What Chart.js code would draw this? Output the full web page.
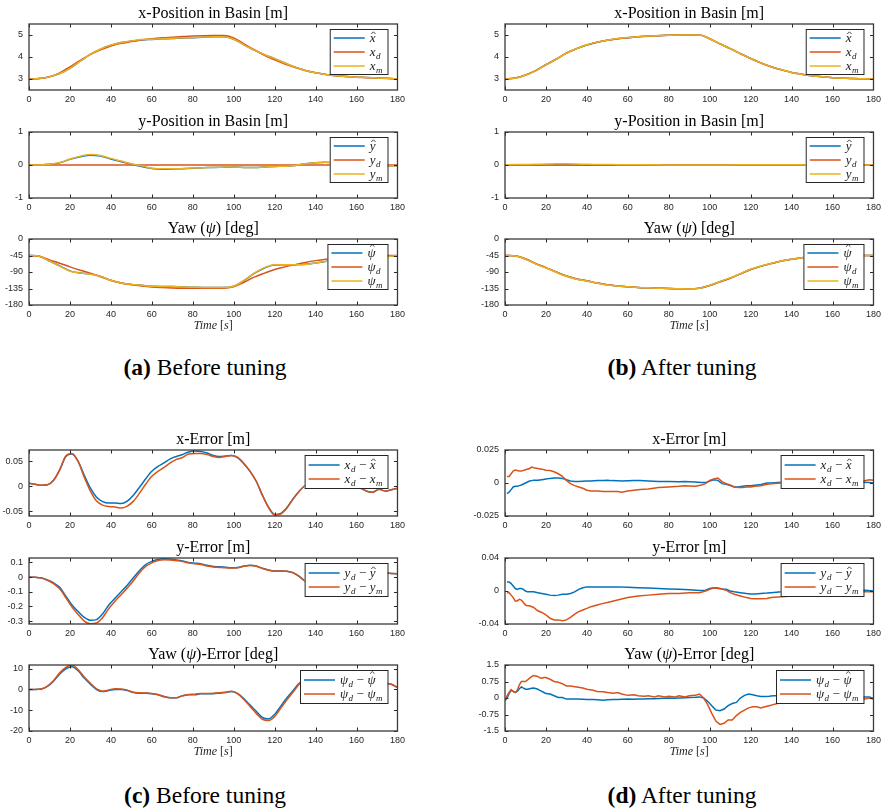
<!DOCTYPE html>
<html>
<head>
<meta charset="utf-8">
<script src="https://cdn.jsdelivr.net/npm/chart.js@4.4.1/dist/chart.umd.min.js"></script>
<style>
  html, body { margin: 0; padding: 0; background: #fff; }
  body { width: 883px; height: 808px; position: relative; overflow: hidden; }
  canvas { position: absolute; }
  .cap { position: absolute; font-family: "Liberation Serif", "Times New Roman", serif; font-size: 23.5px;
         color: #000; white-space: nowrap; transform: translate(-50%, -50%); line-height: 1; }
  .cap b { font-weight: bold; }
</style>
</head>
<body>
<div class="cap" style="left:205px; top:368px;"><b>(a)</b> Before tuning</div>
<div class="cap" style="left:682px; top:368px;"><b>(b)</b> After tuning</div>
<div class="cap" style="left:205px; top:796px;"><b>(c)</b> Before tuning</div>
<div class="cap" style="left:682px; top:796px;"><b>(d)</b> After tuning</div>
<script>
// ---------- time axes ----------
const timeTicks = [0, 20, 40, 60, 80, 100, 120, 140, 160, 180];
const tPos = [0,5,10,15,20,25,30,35,40,45,50,55,60,65,70,75,80,85,90,95,100,105,110,115,120,125,130,135,140,145,150,155,160,165,170,175,180];
const tErrC = [0,3,6,9,12,15,18,21,24,27,30,33,36,39,42,45,48,51,54,57,60,63,66,69,72,75,78,81,84,87,90,93,96,99,102,105,108,111,114,117,120,123,126,129,132,135,138,141,144,147,150,153,156,159,162,165,168,171,174,177,180];
const tDx = [1,2,3,4,5,6,7,8,10,12,13,14,16,18,20,22,24,26,28,30,32,34,36,38,40,42,45,48,50,52,55,57,60,63,66,70,75,80,85,88,90,93,96,98,100,102,104,106,108,110,112,114,116,118,120,122,125,128,130,135,140,145,150,155,160,165,170,175,178,180];
const tDy = [1,2,3,4,5,6,7,8,9,10,11,12,14,16,18,20,22,24,26,28,30,32,34,36,38,40,42,45,48,50,55,60,65,70,75,80,85,90,95,98,100,102,104,106,108,110,112,115,118,120,122,125,128,130,135,140,145,150,155,160,165,170,176,180];
const tDpsi = [0,1,2,3,4,5,6,7,8,9,10,11,12,13,14,15,16,17,18,19,20,22,24,26,28,30,32,35,38,40,43,45,48,50,53,55,57,60,63,65,68,70,73,75,78,80,83,85,88,90,93,95,97,99,101,103,105,107,109,111,113,115,117,119,121,123,125,127,129,131,133,135,137,140,145,150,155,160,165,170,174,176,178,180];

// ---------- (a) before tuning: positions ----------
const aXHat = [2.994,3.018,3.096,3.247,3.486,3.808,4.124,4.359,4.534,4.655,4.722,4.776,4.8,4.825,4.843,4.866,4.88,4.901,4.918,4.92,4.808,4.555,4.313,4.107,3.927,3.727,3.54,3.388,3.28,3.203,3.148,3.111,3.083,3.07,3.048,3.029,3.004];
const aXD   = [3.0,3.02,3.1,3.28,3.55,3.85,4.12,4.33,4.5,4.62,4.7,4.78,4.83,4.87,4.9,4.93,4.95,4.97,4.98,4.98,4.87,4.6,4.33,4.08,3.87,3.68,3.52,3.39,3.29,3.21,3.15,3.11,3.08,3.06,3.04,3.02,3.0];
const aXM   = [2.994,3.018,3.096,3.247,3.485,3.812,4.13,4.366,4.541,4.664,4.733,4.79,4.81,4.833,4.85,4.872,4.884,4.904,4.92,4.922,4.808,4.554,4.313,4.107,3.928,3.727,3.54,3.388,3.28,3.203,3.148,3.111,3.083,3.07,3.048,3.029,3.004];
const aYHat = [0,0.003,0.02,0.07,0.17,0.25,0.295,0.27,0.18,0.1,0.02,-0.045,-0.107,-0.125,-0.12,-0.11,-0.095,-0.085,-0.072,-0.067,-0.064,-0.072,-0.078,-0.06,-0.042,-0.04,-0.015,0.04,0.07,0.08,0.05,0.0,-0.02,-0.028,-0.03,-0.027,-0.022];
const aYD   = [0,0,0,0,0,0,0,0,0,0,0,0,0,0,0,0,0,0,0,0,0,0,0,0,0,0,0,0,0,0,0,0,0,0,0,0,0];
const aYM   = [0,0.003,0.02,0.075,0.18,0.265,0.317,0.29,0.2,0.12,0.04,-0.025,-0.095,-0.117,-0.117,-0.106,-0.093,-0.082,-0.069,-0.064,-0.062,-0.072,-0.078,-0.06,-0.042,-0.04,-0.015,0.04,0.07,0.08,0.05,0.0,-0.02,-0.028,-0.03,-0.027,-0.022];
const aPsiHat = [-45,-47,-60,-73.5,-87,-92.5,-95.5,-102,-112.7,-120,-123.8,-126,-129,-129.3,-129.5,-131,-131.5,-132,-132,-132.4,-128.8,-113.5,-94,-79,-71,-70.5,-70,-69,-65.3,-61,-56.5,-53,-50.5,-49.5,-48.8,-47.7,-46];
const aPsiD   = [-45,-47,-57,-66,-76,-85,-93,-103,-113,-120,-125,-128,-131,-132.5,-133.5,-134,-134,-134,-134,-134,-130,-118,-104,-93,-83,-76,-70,-64,-59,-55,-52,-49,-47,-46,-45.5,-45,-45];
const aPsiM   = [-45,-47,-60,-74,-87.8,-93,-96,-102,-112.7,-120,-123.8,-126,-129,-129.3,-129.5,-131,-131.5,-132,-132,-132.4,-128.8,-113,-93.5,-78.2,-70,-70,-70,-69.5,-65.3,-61,-56.5,-53,-50.5,-49.5,-48.8,-47.7,-46];

// ---------- (b) after tuning: positions ----------
const bXHat = [3.008,3.043,3.178,3.378,3.647,3.897,4.176,4.379,4.549,4.668,4.758,4.828,4.878,4.918,4.948,4.969,4.989,4.999,4.999,4.999,4.828,4.598,4.382,4.153,3.932,3.731,3.56,3.42,3.299,3.219,3.149,3.099,3.059,3.039,3.019,3.01,3.0];
const bXD   = [3.0,3.04,3.18,3.38,3.65,3.9,4.18,4.38,4.55,4.67,4.76,4.83,4.88,4.92,4.95,4.97,4.99,5.0,5.0,5.0,4.83,4.6,4.38,4.15,3.93,3.73,3.56,3.42,3.3,3.22,3.15,3.1,3.06,3.04,3.02,3.01,3.0];
const bXM   = [2.995,3.03,3.168,3.369,3.64,3.891,4.179,4.384,4.555,4.676,4.766,4.837,4.886,4.925,4.954,4.974,4.993,5.002,5.002,5.0,4.828,4.597,4.383,4.153,3.933,3.732,3.561,3.42,3.299,3.219,3.149,3.099,3.059,3.039,3.019,3.008,2.998];
const bYHat = [-0.011,-0.003,0.0,0.001,0.004,0.005,0.004,0.001,-0.005,-0.005,-0.005,-0.005,-0.0045,-0.004,-0.0035,-0.003,-0.0025,-0.002,-0.0015,-0.0005,-0.003,-0.0035,0.0,0.002,0.0035,0.003,0.002,0.001,0.0,-0.0005,-0.001,-0.001,-0.001,-0.001,-0.001,-0.001,0.0];
const bYD   = [0,0,0,0,0,0,0,0,0,0,0,0,0,0,0,0,0,0,0,0,0,0,0,0,0,0,0,0,0,0,0,0,0,0,0,0,0];
const bYM   = [0.002,0.012,0.017,0.022,0.029,0.035,0.035,0.03,0.021,0.017,0.014,0.011,0.008,0.006,0.005,0.004,0.003,0.003,0.002,0.002,-0.002,-0.003,0.002,0.006,0.009,0.009,0.008,0.007,0.006,0.004,0.002,0.001,0.001,0.001,0.001,0.001,0.001];
const bPsiHat = [-44.9,-46.25,-54.4,-67.43,-78.2,-90.05,-100.95,-108.95,-113.93,-119.92,-124.92,-127.93,-129.95,-131.95,-132.97,-133.98,-135,-135.5,-136.02,-134.05,-126.75,-116.42,-106.7,-95,-83.16,-74.07,-67.1,-60.1,-55.12,-51.1,-48.1,-46.58,-46.08,-45.56,-45.06,-45.05,-44.98];
const bPsiD   = [-45,-46,-54,-67,-78,-90,-101,-109,-114,-120,-125,-128,-130,-132,-133,-134,-135,-135.5,-136,-134,-127,-117,-107,-95,-83,-74,-67,-60,-55,-51,-48,-46.5,-46,-45.5,-45,-45,-45];
const bPsiM   = [-44.85,-46.25,-54.75,-68,-78.93,-90.73,-101.55,-109.5,-114.4,-120.3,-125.25,-128.25,-130.12,-132.1,-133.1,-134.1,-135.08,-135.6,-136.1,-134.18,-126.5,-115.8,-106,-94.35,-82.58,-73.55,-66.68,-59.85,-55,-51,-48,-46.5,-46,-45.5,-44.98,-44.97,-44.95];

// ---------- (c) before tuning: errors ----------
const cXErrHat = [0.006,0.004,0.002,0.003,0.012,0.033,0.06,0.065,0.05,0.022,-0.004,-0.022,-0.031,-0.034,-0.034,-0.035,-0.03,-0.018,-0.002,0.015,0.03,0.04,0.047,0.055,0.06,0.064,0.069,0.071,0.07,0.067,0.062,0.06,0.061,0.062,0.057,0.045,0.03,0.01,-0.018,-0.042,-0.057,-0.055,-0.043,-0.025,-0.01,0.002,0.008,0.01,0.008,0.005,0.002,0.0,-0.002,-0.002,-0.004,-0.01,-0.012,-0.006,-0.01,-0.007,-0.004];
const cXErrM   = [0.006,0.004,0.002,0.003,0.012,0.033,0.061,0.066,0.05,0.018,-0.01,-0.03,-0.038,-0.041,-0.042,-0.044,-0.04,-0.03,-0.014,0.004,0.02,0.03,0.038,0.047,0.054,0.058,0.065,0.066,0.066,0.064,0.06,0.058,0.06,0.062,0.058,0.046,0.03,0.01,-0.018,-0.043,-0.058,-0.056,-0.044,-0.026,-0.01,0.002,0.008,0.01,0.008,0.005,0.002,0.0,-0.002,-0.002,-0.004,-0.01,-0.012,-0.006,-0.01,-0.007,-0.004];
const cYErrHat = [0,-0.002,-0.005,-0.02,-0.04,-0.07,-0.13,-0.19,-0.235,-0.275,-0.295,-0.29,-0.25,-0.19,-0.145,-0.1,-0.055,-0.005,0.045,0.085,0.107,0.12,0.125,0.122,0.117,0.11,0.1,0.095,0.09,0.08,0.072,0.07,0.067,0.064,0.066,0.075,0.08,0.075,0.06,0.048,0.042,0.042,0.04,0.03,0.005,-0.03,-0.055,-0.06,-0.05,-0.03,-0.01,0.0,0.01,0.02,0.025,0.028,0.03,0.03,0.028,0.025,0.022];
const cYErrM   = [0,-0.002,-0.006,-0.022,-0.045,-0.08,-0.14,-0.205,-0.255,-0.3,-0.318,-0.312,-0.275,-0.215,-0.165,-0.12,-0.075,-0.025,0.03,0.072,0.097,0.112,0.118,0.117,0.112,0.106,0.096,0.091,0.086,0.076,0.069,0.066,0.063,0.061,0.064,0.074,0.079,0.074,0.059,0.047,0.041,0.041,0.039,0.029,0.004,-0.031,-0.056,-0.06,-0.05,-0.03,-0.01,0.0,0.01,0.02,0.025,0.028,0.03,0.03,0.028,0.025,0.022];
const cPsiErrHat = [0,0,0.2,1.5,4,7.5,10,11,9,5.5,2.5,0,-1,-0.5,0,0,-0.5,-1.5,-1.8,-1.8,-2,-2.5,-3.5,-4,-4,-3,-2.5,-2.5,-2,-2,-2,-1.8,-1.5,-1,-2,-4.5,-7.5,-10.5,-13.5,-14.2,-12,-8,-4,-0.5,3,5,6,6.5,6,5,4.5,4,4,3.5,3.5,3.5,3.5,3.3,3,2.5,1];
const cPsiErrM   = [0,0,0.2,1.6,4.3,8,10.6,11.8,9.6,6,3,0.3,-0.8,-0.2,0.4,0.2,-0.3,-1.3,-1.6,-1.7,-1.9,-2.4,-3.4,-4,-4,-3,-2.4,-2.3,-1.9,-1.9,-1.8,-1.6,-1.3,-0.9,-2.1,-4.8,-8.2,-11.5,-14.4,-15,-13,-9,-5,-1.2,2.5,4.5,5.8,6.4,6,5,4.5,4,4,3.5,3.5,3.5,3.5,3.3,3,2.5,1];

// ---------- (d) after tuning: errors ----------
const dXErrHat = [-0.008,-0.007,-0.005,-0.003,-0.0025,-0.0025,-0.002,-0.0015,0.0,0.0015,0.0018,0.002,0.002,0.0025,0.003,0.0035,0.0037,0.0037,0.0035,0.0025,0.0015,0.0012,0.0012,0.0014,0.0015,0.0016,0.0018,0.0019,0.002,0.0018,0.0017,0.0016,0.0017,0.0018,0.0018,0.0015,0.0012,0.0012,0.001,0.0011,0.001,0.0007,0.0003,0.0003,0.0015,0.0025,0.002,-0.0005,-0.001,-0.002,-0.003,-0.003,-0.0025,-0.002,-0.002,-0.0017,-0.0012,0.0,0.0,0.0005,0.001,0.001,0.001,0.001,0.0008,0.0008,0.0008,0.0005,0.0003,0.0];
const dXErrM   = [0.005,0.005,0.007,0.009,0.0099,0.0095,0.009,0.009,0.01,0.011,0.012,0.0115,0.011,0.0105,0.0097,0.0095,0.0085,0.007,0.005,0.002,-0.0005,-0.002,-0.003,-0.004,-0.0055,-0.006,-0.006,-0.0065,-0.0065,-0.0065,-0.0065,-0.007,-0.006,-0.0055,-0.005,-0.0045,-0.0035,-0.003,-0.0025,-0.002,-0.0022,-0.0025,-0.0015,-0.0005,0.002,0.003,0.0038,0.001,-0.0005,-0.0015,-0.003,-0.0035,-0.0035,-0.003,-0.003,-0.0025,-0.002,-0.001,-0.0005,0.0,0.001,0.0015,0.0015,0.0015,0.0015,0.0015,0.0015,0.0015,0.0025,0.002];
const dYErrHat = [0.011,0.011,0.009,0.006,0.003,0.002,0.003,0.003,0.002,0.0,-0.001,-0.001,-0.001,-0.002,-0.003,-0.004,-0.005,-0.0055,-0.005,-0.004,-0.004,-0.003,-0.001,0.002,0.004,0.005,0.005,0.005,0.005,0.005,0.005,0.0045,0.004,0.0035,0.003,0.0025,0.002,0.0015,0.0005,0.001,0.003,0.004,0.0035,0.0025,0.002,0.0,-0.001,-0.002,-0.003,-0.0035,-0.0035,-0.003,-0.0025,-0.002,-0.001,0.0,0.0005,0.001,0.001,0.001,0.001,0.001,0.001,0.0];
const dYErrM   = [-0.002,-0.002,-0.005,-0.008,-0.012,-0.012,-0.01,-0.011,-0.014,-0.017,-0.018,-0.018,-0.02,-0.024,-0.026,-0.029,-0.033,-0.035,-0.035,-0.036,-0.035,-0.032,-0.028,-0.025,-0.023,-0.021,-0.019,-0.017,-0.015,-0.014,-0.011,-0.008,-0.006,-0.005,-0.004,-0.003,-0.003,-0.002,-0.002,0.0,0.002,0.004,0.003,0.0025,0.001,-0.002,-0.004,-0.006,-0.008,-0.009,-0.0095,-0.0095,-0.009,-0.008,-0.007,-0.006,-0.004,-0.002,-0.001,-0.001,-0.001,-0.001,-0.001,-0.001];
const dPsiErrHat = [-0.1,0.0,0.2,0.35,0.3,0.25,0.3,0.42,0.5,0.45,0.4,0.4,0.42,0.44,0.45,0.43,0.4,0.35,0.3,0.25,0.2,0.18,0.1,0.02,0.02,-0.05,-0.05,-0.05,-0.06,-0.07,-0.07,-0.08,-0.1,-0.08,-0.07,-0.07,-0.06,-0.05,-0.06,-0.05,-0.04,-0.03,-0.03,-0.02,-0.01,0.0,-0.01,0.0,0.01,0.02,0.03,0.05,0.0,-0.15,-0.35,-0.55,-0.58,-0.5,-0.35,-0.25,-0.2,0.0,0.12,0.18,0.15,0.1,0.07,0.07,0.08,0.1,0.1,0.1,0.12,0.12,0.1,0.1,0.08,0.08,0.06,0.06,0.05,0.05,0.05,-0.02];
const dPsiErrM   = [-0.15,0.1,0.25,0.38,0.3,0.25,0.35,0.6,0.75,0.75,0.75,0.82,0.9,0.97,1.02,1.0,0.98,0.92,0.9,0.93,0.93,0.85,0.75,0.72,0.65,0.55,0.55,0.5,0.45,0.4,0.35,0.3,0.28,0.25,0.22,0.25,0.18,0.12,0.15,0.1,0.08,0.1,0.05,0.1,0.05,0.08,0.05,0.1,0.05,0.1,0.12,0.18,0.0,-0.3,-0.7,-1.05,-1.2,-1.15,-1.0,-1.0,-0.8,-0.65,-0.55,-0.45,-0.4,-0.4,-0.45,-0.4,-0.35,-0.3,-0.25,-0.15,-0.05,0.0,0.0,0.0,0.0,0.0,0.0,-0.02,-0.03,-0.05,0.0,-0.05];

// ---------- axis limits and tick values ----------
const xPosRange = [2.5, 5.5],  xPosTicks = [3, 4, 5];
const yPosRange = [-1, 1],     yPosTicks = [-1, 0, 1];
const yawRange  = [-180, 0],   yawTicks  = [-180, -135, -90, -45, 0];
const cXErrRange = [-0.06, 0.073],  cXErrTicks = [-0.05, 0, 0.05];
const cYErrRange = [-0.32, 0.13],   cYErrTicks = [-0.3, -0.2, -0.1, 0, 0.1];
const cPsiErrRange = [-20, 11.8],   cPsiErrTicks = [-20, -10, 0, 10];
const dXErrRange = [-0.025, 0.025], dXErrTicks = [-0.025, 0, 0.025];
const dYErrRange = [-0.04, 0.04],   dYErrTicks = [-0.04, 0, 0.04];
const dPsiErrRange = [-1.5, 1.5],   dPsiErrTicks = [-1.5, -0.75, 0, 0.75, 1.5];

// ---------- styling ----------
const COLORS = ['#0072BD', '#D95319', '#EDB120'];
const AXIS_COLOR = '#262626';
const LINE_W = 1.5;
const PLOT_W = 370, PLOT_H = 66;
const PAD_L = 44, PAD_T = 26, PAD_R = 10, PAD_B = 34;
const SERIF = '"Liberation Serif", "Times New Roman", serif';

// math label pieces
const hat = s => ({ t: s, hat: true });
const sub = (s, d) => ({ t: s, sub: d });
const minus = { op: '\u2212' };

function drawMath(ctx, parts, x, yb, draw) {
  let cx = x;
  for (const p of parts) {
    if (p.op) {
      ctx.font = '13px ' + SERIF;
      cx += 3.5;
      if (draw) ctx.fillText(p.op, cx, yb);
      cx += ctx.measureText(p.op).width + 3.5;
      continue;
    }
    ctx.font = 'italic 13px ' + SERIF;
    const w = ctx.measureText(p.t).width;
    if (draw) {
      ctx.fillText(p.t, cx, yb);
      if (p.hat) {
        const hx = cx + w / 2 + 0.8;
        const hy = yb - (p.t === '\u03C8' ? 9.8 : 7.5);
        ctx.beginPath();
        ctx.moveTo(hx - 2.2, hy);
        ctx.lineTo(hx, hy - 2.2);
        ctx.lineTo(hx + 2.2, hy);
        ctx.lineWidth = 0.8;
        ctx.stroke();
      }
    }
    cx += w;
    if (p.sub) {
      ctx.font = 'italic 9px ' + SERIF;
      if (draw) ctx.fillText(p.sub, cx + 0.5, yb + 3);
      cx += ctx.measureText(p.sub).width + 0.5;
    }
  }
  return cx - x;
}

// mixed upright / italic text runs, centred on cx
function drawRuns(ctx, runs, size, cx, yb) {
  let total = 0;
  const widths = runs.map(([txt, it]) => {
    ctx.font = (it ? 'italic ' : '') + size + 'px ' + SERIF;
    const w = ctx.measureText(txt).width;
    total += w;
    return w;
  });
  let x = cx - total / 2;
  runs.forEach(([txt, it], i) => {
    ctx.font = (it ? 'italic ' : '') + size + 'px ' + SERIF;
    ctx.fillText(txt, x, yb);
    x += widths[i];
  });
}

function makeDecor(spec) {
  return {
    id: 'decor',
    afterDraw(chart) {
      const ctx = chart.ctx, a = chart.chartArea;
      const xs = chart.scales.x, ys = chart.scales.y;
      ctx.save();
      ctx.textAlign = 'left';
      ctx.textBaseline = 'alphabetic';

      // inward ticks on all four sides
      const tl = 3.5;
      ctx.strokeStyle = AXIS_COLOR;
      ctx.lineWidth = 1;
      ctx.beginPath();
      xs.ticks.forEach(t => {
        const px = Math.round(xs.getPixelForValue(t.value)) + 0.5;
        ctx.moveTo(px, a.bottom); ctx.lineTo(px, a.bottom - tl);
        ctx.moveTo(px, a.top); ctx.lineTo(px, a.top + tl);
      });
      ys.ticks.forEach(t => {
        const py = Math.round(ys.getPixelForValue(t.value)) + 0.5;
        ctx.moveTo(a.left, py); ctx.lineTo(a.left + tl, py);
        ctx.moveTo(a.right, py); ctx.lineTo(a.right - tl, py);
      });
      ctx.stroke();

      // axes box
      ctx.lineWidth = 1.3;
      ctx.strokeStyle = '#3a3a3a';
      ctx.strokeRect(a.left, a.top, a.right - a.left, a.bottom - a.top);

      // legend (upper right, inside the axes)
      const rows = spec.series.length;
      const rowH = 14;
      let textW = 0;
      spec.series.forEach(s => { textW = Math.max(textW, drawMath(ctx, s.lab, 0, 0, false)); });
      const lw = 4 + 31 + 5 + textW + 5;
      const lh = rows * rowH + (rows === 3 ? 3 : 5);
      const lx = a.right - 10 - lw, ly = a.top + 5;
      ctx.fillStyle = '#fff';
      ctx.fillRect(lx, ly, lw, lh);
      ctx.strokeStyle = AXIS_COLOR;
      ctx.lineWidth = 1;
      ctx.strokeRect(lx + 0.5, ly + 0.5, lw, lh);
      spec.series.forEach((s, i) => {
        const cy = ly + (lh - rows * rowH) / 2 + rowH * (i + 0.5) + 0.5;
        ctx.strokeStyle = COLORS[s.c];
        ctx.lineWidth = LINE_W;
        ctx.beginPath();
        ctx.moveTo(lx + 4, cy); ctx.lineTo(lx + 35, cy);
        ctx.stroke();
        ctx.fillStyle = '#1a1a1a';
        ctx.strokeStyle = '#1a1a1a';
        drawMath(ctx, s.lab, lx + 40, cy + 3.5, true);
      });

      // title
      ctx.fillStyle = '#000';
      drawRuns(ctx, spec.title, 16, (a.left + a.right) / 2, a.top - 6);

      // time label under the bottom row
      if (spec.timeLabel) {
        ctx.fillStyle = '#262626';
        drawRuns(ctx, [['Time', true], [' [', false], ['s', true], [']', false]], 12, (a.left + a.right) / 2, a.bottom + 24);
      }
      ctx.restore();
    }
  };
}

function panel(spec) {
  const cv = document.createElement('canvas');
  cv.width = PAD_L + PLOT_W + PAD_R;
  cv.height = PAD_T + PLOT_H + PAD_B;
  cv.style.left = (spec.left - PAD_L) + 'px';
  cv.style.top = (spec.top - PAD_T) + 'px';
  document.body.appendChild(cv);
  const n = spec.series.length;
  const tickFont = { family: '"Liberation Sans", Arial, sans-serif', size: 9 };
  new Chart(cv, {
    type: 'line',
    data: {
      datasets: spec.series.map((s, i) => ({
        data: s.t.map((t, k) => ({ x: t, y: s.v[k] })),
        borderColor: COLORS[s.c],
        borderWidth: LINE_W,
        pointRadius: 0,
        fill: false,
        tension: 0,
        cubicInterpolationMode: spec.smooth ? 'monotone' : 'default',
        order: n - i
      }))
    },
    options: {
      responsive: false,
      animation: false,
      devicePixelRatio: 1,
      events: [],
      layout: { padding: { left: 0, top: PAD_T, right: PAD_R, bottom: 0 } },
      plugins: { legend: { display: false }, tooltip: { enabled: false }, title: { display: false } },
      scales: {
        x: {
          type: 'linear', min: 0, max: 180,
          afterBuildTicks: s => { s.ticks = timeTicks.map(v => ({ value: v })); },
          afterFit: s => { s.height = PAD_B; },
          grid: { display: false, drawTicks: false }, border: { display: false },
          ticks: { padding: 4, color: AXIS_COLOR, font: tickFont, maxRotation: 0, autoSkip: false, callback: v => String(v) }
        },
        y: {
          type: 'linear', min: spec.range[0], max: spec.range[1],
          afterBuildTicks: s => { s.ticks = spec.yTicks.map(v => ({ value: v })); },
          afterFit: s => { s.width = PAD_L; },
          grid: { display: false, drawTicks: false }, border: { display: false },
          ticks: { padding: 6, color: AXIS_COLOR, font: tickFont, autoSkip: false, callback: v => String(v) }
        }
      }
    },
    plugins: [makeDecor(spec)]
  });
}

const PSI = '\u03C8';
const LEFT_COL = 29, RIGHT_COL = 505;
const TOP_ROWS = [24, 132, 239];
const BOT_ROWS = [450, 558, 665];

function positionPanels(left, xd, xh, xm, yd, yh, ym, pd, ph, pm) {
  panel({ left, top: TOP_ROWS[0], title: [['x-Position in Basin [m]', false]], range: xPosRange, yTicks: xPosTicks, smooth: true,
    series: [{ t: tPos, v: xh, c: 0, lab: [hat('x')] }, { t: tPos, v: xd, c: 1, lab: [sub('x', 'd')] }, { t: tPos, v: xm, c: 2, lab: [sub('x', 'm')] }] });
  panel({ left, top: TOP_ROWS[1], title: [['y-Position in Basin [m]', false]], range: yPosRange, yTicks: yPosTicks, smooth: true,
    series: [{ t: tPos, v: yh, c: 0, lab: [hat('y')] }, { t: tPos, v: yd, c: 1, lab: [sub('y', 'd')] }, { t: tPos, v: ym, c: 2, lab: [sub('y', 'm')] }] });
  panel({ left, top: TOP_ROWS[2], title: [['Yaw (', false], [PSI, true], [') [deg]', false]], range: yawRange, yTicks: yawTicks, smooth: true, timeLabel: true,
    series: [{ t: tPos, v: ph, c: 0, lab: [hat(PSI)] }, { t: tPos, v: pd, c: 1, lab: [sub(PSI, 'd')] }, { t: tPos, v: pm, c: 2, lab: [sub(PSI, 'm')] }] });
}

positionPanels(LEFT_COL, aXD, aXHat, aXM, aYD, aYHat, aYM, aPsiD, aPsiHat, aPsiM);
positionPanels(RIGHT_COL, bXD, bXHat, bXM, bYD, bYHat, bYM, bPsiD, bPsiHat, bPsiM);

const xErrLabs = [[sub('x', 'd'), minus, hat('x')], [sub('x', 'd'), minus, sub('x', 'm')]];
const yErrLabs = [[sub('y', 'd'), minus, hat('y')], [sub('y', 'd'), minus, sub('y', 'm')]];
const pErrLabs = [[sub(PSI, 'd'), minus, hat(PSI)], [sub(PSI, 'd'), minus, sub(PSI, 'm')]];

// (c) errors before tuning
panel({ left: LEFT_COL, top: BOT_ROWS[0], title: [['x-Error [m]', false]], range: cXErrRange, yTicks: cXErrTicks, smooth: true,
  series: [{ t: tErrC, v: cXErrHat, c: 0, lab: xErrLabs[0] }, { t: tErrC, v: cXErrM, c: 1, lab: xErrLabs[1] }] });
panel({ left: LEFT_COL, top: BOT_ROWS[1], title: [['y-Error [m]', false]], range: cYErrRange, yTicks: cYErrTicks, smooth: true,
  series: [{ t: tErrC, v: cYErrHat, c: 0, lab: yErrLabs[0] }, { t: tErrC, v: cYErrM, c: 1, lab: yErrLabs[1] }] });
panel({ left: LEFT_COL, top: BOT_ROWS[2], title: [['Yaw (', false], [PSI, true], [')-Error [deg]', false]], range: cPsiErrRange, yTicks: cPsiErrTicks, smooth: true, timeLabel: true,
  series: [{ t: tErrC, v: cPsiErrHat, c: 0, lab: pErrLabs[0] }, { t: tErrC, v: cPsiErrM, c: 1, lab: pErrLabs[1] }] });

// (d) errors after tuning
panel({ left: RIGHT_COL, top: BOT_ROWS[0], title: [['x-Error [m]', false]], range: dXErrRange, yTicks: dXErrTicks, smooth: false,
  series: [{ t: tDx, v: dXErrHat, c: 0, lab: xErrLabs[0] }, { t: tDx, v: dXErrM, c: 1, lab: xErrLabs[1] }] });
panel({ left: RIGHT_COL, top: BOT_ROWS[1], title: [['y-Error [m]', false]], range: dYErrRange, yTicks: dYErrTicks, smooth: false,
  series: [{ t: tDy, v: dYErrHat, c: 0, lab: yErrLabs[0] }, { t: tDy, v: dYErrM, c: 1, lab: yErrLabs[1] }] });
panel({ left: RIGHT_COL, top: BOT_ROWS[2], title: [['Yaw (', false], [PSI, true], [')-Error [deg]', false]], range: dPsiErrRange, yTicks: dPsiErrTicks, smooth: false, timeLabel: true,
  series: [{ t: tDpsi, v: dPsiErrHat, c: 0, lab: pErrLabs[0] }, { t: tDpsi, v: dPsiErrM, c: 1, lab: pErrLabs[1] }] });
</script>
</body>
</html>
